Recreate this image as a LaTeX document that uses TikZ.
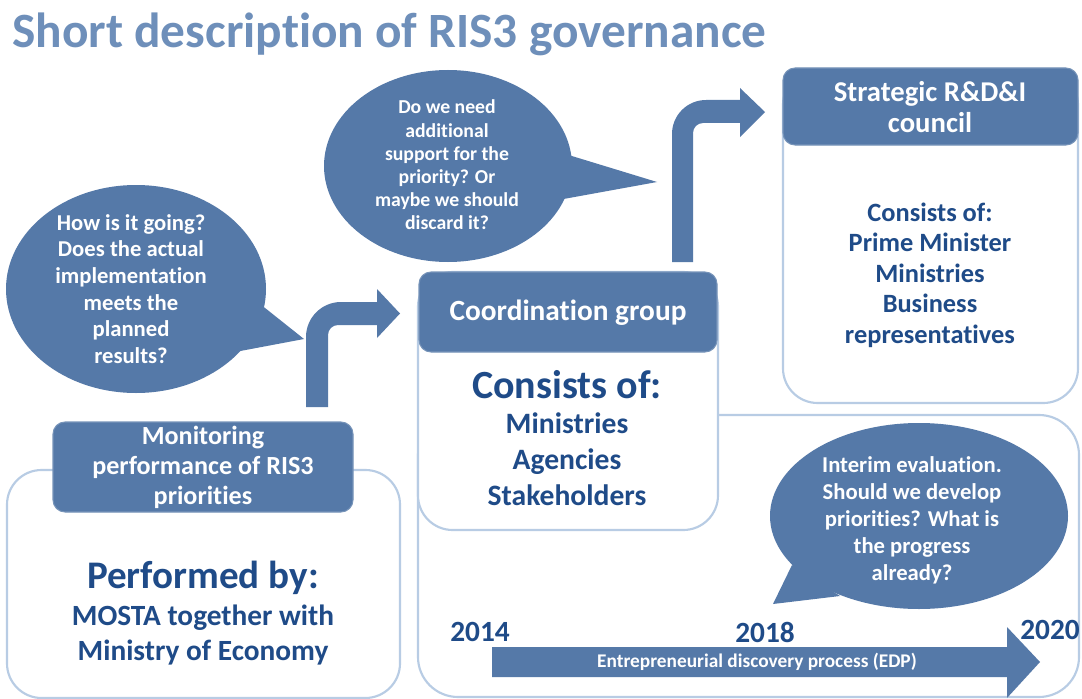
\documentclass[tikz,border=0pt]{standalone}
\usepackage{fontspec}
\setmainfont[Ligatures=NoCommon]{Carlito}
\usetikzlibrary{shapes.geometric}
\definecolor{bub}{RGB}{85,121,168}
\definecolor{dk}{RGB}{31,75,136}
\definecolor{ttl}{RGB}{110,143,186}
\definecolor{edgec}{RGB}{184,204,228}
\tikzset{
  outerbox/.style={draw=edgec,line width=1.6pt,fill=white,rounded corners=26pt},
  headbox/.style={fill=bub,draw=bub!80!white,line width=0.8pt,rounded corners=9pt},
  bubfill/.style={fill=bub},
  wtxt/.style={text=white,align=center,font=\bfseries},
  dtxt/.style={text=dk,align=center,font=\bfseries},
}
\newcommand{\fs}[2]{\fontsize{#1}{#2}\selectfont}
\begin{document}
\begin{tikzpicture}[x=0.75pt,y=-0.75pt]
\useasboundingbox[fill=white] (0,0) rectangle (1082,699);

% title
\node[anchor=base west,text=ttl,font=\bfseries\fs{37}{40},inner sep=0pt] (title) at (12,48) {Short description of RIS3 governance};

% big bottom-right box
\draw[outerbox,rounded corners=30pt] (418,415) rectangle (1079,697);

% strategic council
\draw[outerbox] (783,70) rectangle (1078,403);
\draw[headbox] (783,68) rectangle (1078,145);
\node[wtxt,font=\bfseries\fs{21.5}{23.3}] (sthead) at (930,107) {Strategic R\&D\&I\\council};
\node[dtxt,font=\bfseries\fs{19.8}{22.9}] (stbody) at (930,275) {Consists of:\\Prime Minister\\Ministries\\Business\\representatives};

% coordination group
\draw[outerbox] (418,272) rectangle (718,530);
\draw[headbox] (419,272) rectangle (717,352);
\node[wtxt,font=\bfseries\fs{22}{25}] (cohead) at (568,313) {Coordination group};
\node[dtxt,font=\bfseries\fs{30}{32}] (coof) at (567,385) {Consists of:};
\node[dtxt,font=\bfseries\fs{22.2}{27}] (cobody) at (567,459) {Ministries\\Agencies\\Stakeholders};

% monitoring
\draw[outerbox] (7,470) rectangle (400,698);
\draw[headbox] (53,422) rectangle (353,512);
\node[wtxt,font=\bfseries\fs{19.6}{22.5}] (mohead) at (203,467) {Monitoring\\performance of RIS3\\priorities};
\node[dtxt,font=\bfseries\fs{29.3}{32}] (moby) at (203,578) {Performed by:};
\node[dtxt,font=\bfseries\fs{22}{26}] (mobody) at (203,635) {MOSTA together with\\Ministry of Economy};

% bubbles
\fill[bubfill] (136,289) ellipse [x radius=130, y radius=104];
\fill[bubfill] (255,300) -- (304,339) -- (235,352) -- cycle;
\node[wtxt,font=\bfseries\fs{17}{20}] (b1) at (131,289) {How is it going?\\Does the actual\\implementation\\meets the\\planned\\results?};

\fill[bubfill] (448,166) ellipse [x radius=124, y radius=96];
\fill[bubfill] (562,153) -- (657,182) -- (558,200) -- cycle;
\node[wtxt,font=\bfseries\fs{14.8}{17.4}] (b2) at (447,165) {Do we need\\additional\\support for the\\priority? Or\\maybe we should\\discard it?};

\fill[bubfill] (919,516) ellipse [x radius=149, y radius=93];
\fill[bubfill] (792,565) -- (773,604) -- (840,596) -- cycle;
\node[wtxt,font=\bfseries\fs{17}{20.2}] (b3) at (912,520) {Interim evaluation.\\Should we develop\\priorities? What is\\the progress\\already?};

% bent arrow 1
\fill[bub] (306,407) -- (306,337) .. controls (306,317.7) and (321.7,302) .. (341,302)
  -- (377,302) -- (377,289) -- (400,313.5) -- (377,338) -- (377,325)
  -- (338,325) .. controls (332.5,325) and (328,329.5) .. (328,335) -- (328,407) -- cycle;
% bent arrow 2
\fill[bub] (672,262) -- (672,134) .. controls (672,115.2) and (687.2,100) .. (706,100)
  -- (740,100) -- (740,88) -- (765,112) -- (740,137) -- (740,123)
  -- (703,123) .. controls (697.5,123) and (693,127.5) .. (693,133) -- (693,262) -- cycle;

% timeline
\fill[bub] (492,647) -- (1007,647) -- (1007,627) -- (1040,662) -- (1007,698) -- (1007,677) -- (492,677) -- cycle;
\node[text=white,font=\bfseries\fs{14.5}{16}] (edp) at (757,662) {Entrepreneurial discovery process (EDP)};
\node[dtxt,font=\bfseries\fs{22}{24}] (y14) at (480,632) {2014};
\node[dtxt,font=\bfseries\fs{22}{24}] (y18) at (765,632) {2018};
\node[dtxt,font=\bfseries\fs{22}{24}] (y20) at (1050,630) {2020};
\end{tikzpicture}
\end{document}
